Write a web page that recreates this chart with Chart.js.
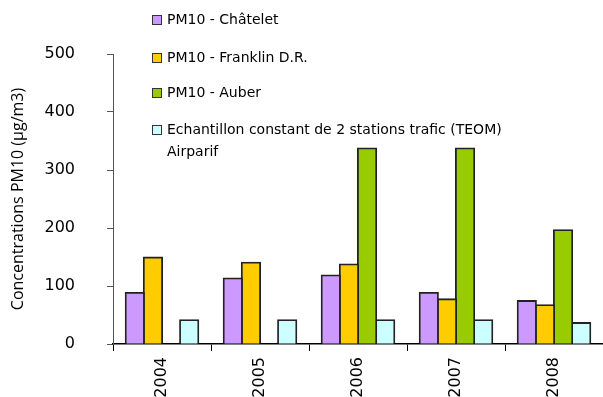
<!DOCTYPE html>
<html>
<head>
<meta charset="utf-8">
<script src="https://cdn.jsdelivr.net/npm/chart.js@4"></script>
<style>
  html, body { margin: 0; padding: 0; background: #fff; }
  #wrap { width: 603px; height: 397px; }
</style>
</head>
<body>
<div id="wrap"><canvas id="pmChart" width="603" height="397"></canvas></div>
<script>
const years = ['2004', '2005', '2006', '2007', '2008'];
const chatelet = [88, 113, 118, 88, 74];
const franklin = [149, 140, 137, 77, 67];
const auber = [null, null, 337, 337, 196];
const teom = [41, 41, 41, 41, 36];
const yTicks = [0, 100, 200, 300, 400, 500];

const FONT = "'DejaVu Sans', Verdana, sans-serif";
const TITLE_FONT = "'Open Sans', 'DejaVu Sans', sans-serif";

// legend drawn as a vertical list inside the plot, like the original
const floatingLegend = {
  id: 'floatingLegend',
  afterDraw(chart) {
    const ctx = chart.ctx;
    const x = 152, rows = [20, 58, 93, 130];
    ctx.save();
    ctx.font = "14px 'DejaVu Sans'";
    ctx.textBaseline = 'middle';
    chart.data.datasets.forEach((ds, i) => {
      const y = rows[i];
      ctx.fillStyle = ds.backgroundColor;
      ctx.fillRect(x, y - 5, 10, 10);
      ctx.strokeStyle = '#333';
      ctx.lineWidth = 1;
      ctx.strokeRect(x + 0.5, y - 4.5, 9, 9);
      ctx.fillStyle = '#000';
      const lines = [].concat(ds.label);
      lines.forEach((t, j) => ctx.fillText(t, x + 15, y + j * 22));
    });
    ctx.restore();
  }
};

const ctx = document.getElementById('pmChart');
new Chart(ctx, {
  type: 'bar',
  data: {
    labels: years,
    datasets: [
      { label: 'PM10 - Châtelet', data: chatelet, backgroundColor: '#cc99ff' },
      { label: 'PM10 - Franklin D.R.', data: franklin, backgroundColor: '#ffcc00' },
      { label: 'PM10 - Auber', data: auber, backgroundColor: '#99cc00' },
      { label: ['Echantillon constant de 2 stations trafic (TEOM)', 'Airparif'], data: teom, backgroundColor: '#ccffff' }
    ].map(d => Object.assign(d, { borderColor: '#222', borderWidth: 1.8, inflateAmount: 1 }))
  },
  options: {
    responsive: false,
    animation: false,
    layout: { padding: { top: 54, right: 0, left: 4, bottom: 0 } },
    datasets: {
      bar: { categoryPercentage: 0.74, barPercentage: 1 }
    },
    plugins: {
      legend: { display: false },
      tooltip: { enabled: false }
    },
    scales: {
      x: {
        afterFit(axis) { axis.height = 53; },
        grid: { offset: true, drawOnChartArea: false, tickLength: 7, color: '#000' },
        border: { color: '#000', width: 1.5 },
        ticks: { color: '#000', font: { family: FONT, size: 16 }, minRotation: 90, maxRotation: 90, padding: 6 }
      },
      y: {
        min: 0,
        max: 500,
        afterBuildTicks(axis) { axis.ticks = yTicks.map(v => ({ value: v })); },
        afterFit(axis) { axis.width = 109; },
        grid: { drawOnChartArea: false, tickLength: 6, color: '#555' },
        border: { color: '#555', width: 1 },
        ticks: { color: '#000', font: { family: FONT, size: 16 }, padding: 32 },
        title: {
          display: true,
          text: 'Concentrations PM10 (µg/m3)',
          color: '#000',
          font: { family: TITLE_FONT, size: 16 },
          padding: { top: 5, bottom: 0 }
        }
      }
    }
  },
  plugins: [floatingLegend]
});
</script>
</body>
</html>
